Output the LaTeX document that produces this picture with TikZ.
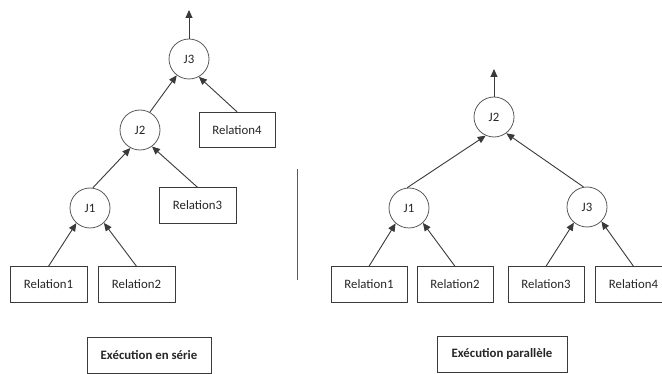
\documentclass[tikz,border=0pt]{standalone}
\usepackage{fontspec}
\setmainfont{Carlito}
\usetikzlibrary{arrows.meta}
\definecolor{ink}{HTML}{262626}
\definecolor{edge}{HTML}{3A3A3A}
\definecolor{ring}{HTML}{5A5A5A}
\begin{document}
\begin{tikzpicture}[x=1pt,y=-1pt,
  every node/.style={font=\fontsize{12.8}{15}\selectfont, text=ink},
  joinop/.style={circle, draw=ring, line width=0.8pt, minimum size=40pt, inner sep=0pt},
  rel/.style={rectangle, draw=edge, line width=0.9pt, minimum width=77pt, minimum height=35.5pt, inner sep=0pt},
  caption/.style={rectangle, draw=edge, line width=0.9pt, minimum height=36pt, inner sep=0pt, font=\fontsize{12.8}{15}\selectfont\bfseries},
  arr/.style={draw=edge, line width=0.9pt, -{Triangle[length=8pt,width=7pt]}}]
\useasboundingbox[fill=white] (0,0) rectangle (662,374);

% serial plan
\node[joinop] (sJ3) at (189,59) {J3};
\node[joinop] (sJ2) at (140,130) {J2};
\node[joinop] (sJ1) at (90,208) {J1};
\node[rel, minimum width=76pt] (sR4) at (237,130) {Relation4};
\node[rel] (sR3) at (197.5,205.5) {Relation3};
\node[rel] (sR1) at (48.5,284.5) {Relation1};
\node[rel] (sR2) at (136.5,284.5) {Relation2};
\node[caption, minimum width=124pt] (sCap) at (149,355) {Exécution en série};
\coordinate (sOut) at (189,10);

\draw[arr] (sR1.north) -- (sJ1.228);
\draw[arr] (sR2.north) -- (sJ1.313);
\draw[arr] (sJ1.82) -- (sJ2.242);
\draw[arr] (sR3.north) -- (sJ2.306);
\draw[arr] (sJ2.61) -- (sJ3.233);
\draw[arr] (sR4.north) -- (sJ3.299);
\draw[arr] (sJ3.north) -- (sOut);

% separator
\coordinate (sepTop) at (297,169);
\coordinate (sepBot) at (297,280);
\draw[draw=ring, line width=0.8pt] (sepTop) -- (sepBot);

% parallel plan
\node[joinop] (pJ2) at (494,117) {J2};
\node[joinop] (pJ1) at (409,208) {J1};
\node[joinop] (pJ3) at (587,207) {J3};
\node[rel, minimum width=76pt] (pR1) at (369,284.5) {Relation1};
\node[rel, minimum width=76pt] (pR2) at (455,284.5) {Relation2};
\node[rel, minimum width=76pt] (pR3) at (546,284.5) {Relation3};
\node[rel] (pR4) at (633.5,284.5) {Relation4};
\node[caption, minimum width=130pt] (pCap) at (502,354.5) {Exécution parallèle};
\coordinate (pOut) at (494,69);

\draw[arr] (pR1.north) -- (pJ1.229);
\draw[arr] (pR2.north) -- (pJ1.313);
\draw[arr] (pR3.north) -- (pJ3.230);
\draw[arr] (pR4.north) -- (pJ3.315);
\draw[arr] (pJ1.95) -- (pJ2.246);
\draw[arr] (pJ3.100) -- (pJ2.307);
\draw[arr] (pJ2.north) -- (pOut);
\end{tikzpicture}
\end{document}
